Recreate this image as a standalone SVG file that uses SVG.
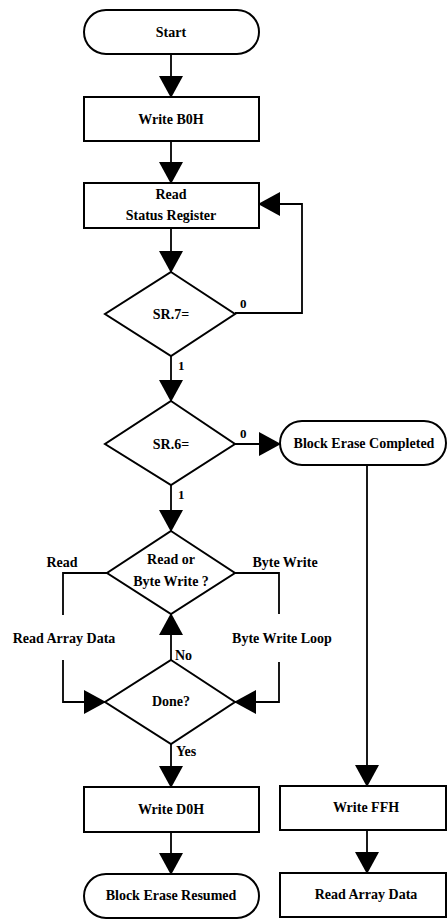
<svg xmlns="http://www.w3.org/2000/svg" width="448" height="920" viewBox="0 0 448 920">
<style>
.n{fill:#fff;stroke:#000;stroke-width:2}
.c{fill:none;stroke:#000;stroke-width:1.8}
text{font-family:"Liberation Serif","Times New Roman",serif;font-weight:bold;font-size:14px;fill:#000}
.m{text-anchor:middle}
.l{font-size:13px}
</style>
<defs>
<marker id="ah" viewBox="0 0 22 24" refX="21" refY="12" markerWidth="22" markerHeight="24" markerUnits="userSpaceOnUse" orient="auto">
<path d="M0,0 L22,12 L0,24 Z" fill="#000"/>
</marker>
</defs>
<g id="connectors">
<path class="c" d="M171,54 V97" marker-end="url(#ah)"/>
<path class="c" d="M171,141 V183" marker-end="url(#ah)"/>
<path class="c" d="M171,228 V272" marker-end="url(#ah)"/>
<path class="c" d="M235,313 H302 V204 H259" marker-end="url(#ah)"/>
<path class="c" d="M171,356 V401" marker-end="url(#ah)"/>
<path class="c" d="M235,444 H280" marker-end="url(#ah)"/>
<path class="c" d="M367,465 V786" marker-end="url(#ah)"/>
<path class="c" d="M171,485 V531" marker-end="url(#ah)"/>
<path class="c" d="M107,573 H63 V615"/>
<path class="c" d="M63,660 V702 H105" marker-end="url(#ah)"/>
<path class="c" d="M235,573 H279 V614"/>
<path class="c" d="M279,662 V702 H235" marker-end="url(#ah)"/>
<path class="c" d="M171,660 V614" marker-end="url(#ah)"/>
<path class="c" d="M171,744 V787" marker-end="url(#ah)"/>
<path class="c" d="M171,832 V874" marker-end="url(#ah)"/>
<path class="c" d="M367,830 V873" marker-end="url(#ah)"/>
<text class="l" x="240" y="308">0</text>
<text class="l" x="178" y="370">1</text>
<text class="l" x="240" y="438">0</text>
<text class="l" x="178" y="499">1</text>
<text class="m" x="62" y="567">Read</text>
<text class="m" x="285" y="567">Byte Write</text>
<text class="m" x="64" y="643">Read Array Data</text>
<text class="m" x="282" y="643">Byte Write Loop</text>
<text x="175" y="660">No</text>
<text x="176" y="756">Yes</text>
</g>
<g id="start"><rect class="n" x="84" y="10" width="175" height="44" rx="22"/><text class="m" x="171" y="37">Start</text></g>
<g id="writeB0H"><rect class="n" x="84" y="97" width="175" height="44"/><text class="m" x="171" y="124">Write B0H</text></g>
<g id="readSR"><rect class="n" x="84" y="183" width="175" height="45"/><text class="m" x="171" y="199">Read</text><text class="m" x="171" y="220">Status Register</text></g>
<g id="sr7"><path class="n" d="M171,272 L235,314 L171,356 L105,314 Z"/><text class="m" x="171" y="319">SR.7=</text></g>
<g id="sr6"><path class="n" d="M171,401 L235,444 L171,485 L105,444 Z"/><text class="m" x="171" y="449">SR.6=</text></g>
<g id="blockEraseCompleted"><rect class="n" x="280" y="421" width="166" height="44" rx="22"/><text class="m" x="364" y="448">Block Erase Completed</text></g>
<g id="readOrByteWrite"><path class="n" d="M171,531 L235,573 L171,614 L107,573 Z"/><text class="m" x="171" y="564">Read or</text><text class="m" x="171" y="586">Byte Write ?</text></g>
<g id="done"><path class="n" d="M171,660 L235,702 L171,744 L105,702 Z"/><text class="m" x="171" y="706">Done?</text></g>
<g id="writeD0H"><rect class="n" x="84" y="787" width="175" height="45"/><text class="m" x="171" y="814">Write D0H</text></g>
<g id="blockEraseResumed"><rect class="n" x="84" y="874" width="175" height="44" rx="22"/><text class="m" x="171" y="900">Block Erase Resumed</text></g>
<g id="writeFFH"><rect class="n" x="280" y="786" width="166" height="44"/><text class="m" x="366" y="812">Write FFH</text></g>
<g id="readArrayData"><rect class="n" x="280" y="873" width="166" height="44"/><text class="m" x="366" y="899">Read Array Data</text></g>
</svg>
